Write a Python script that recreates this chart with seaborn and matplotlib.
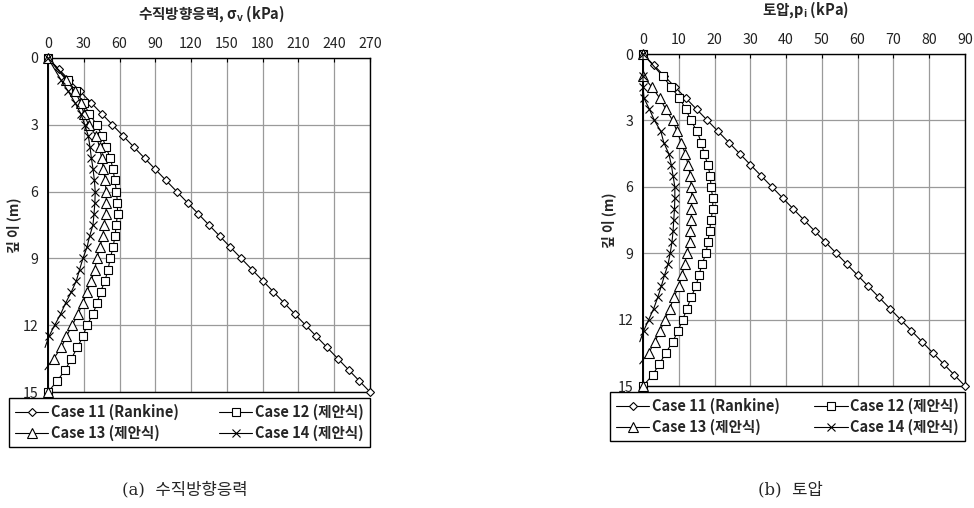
import matplotlib
matplotlib.use("Agg")
import matplotlib.pyplot as plt
import numpy as np
import pandas as pd
import seaborn as sns

# depth (m) for the Rankine series
depth_r = [0, 0.5, 1.0, 1.5, 2.0, 2.5, 3.0, 3.5, 4.0, 4.5, 5.0, 5.5, 6.0, 6.5, 7.0, 7.5,
           8.0, 8.5, 9.0, 9.5, 10.0, 10.5, 11.0, 11.5, 12.0, 12.5, 13.0, 13.5, 14.0, 14.5, 15.0]
# depth (m) for the proposed-formula series (no point at 0.5 m)
depth_p = [0, 1.0, 1.5, 2.0, 2.5, 3.0, 3.5, 4.0, 4.5, 5.0, 5.5, 6.0, 6.5, 7.0, 7.5, 8.0,
           8.5, 9.0, 9.5, 10.0, 10.5, 11.0, 11.5, 12.0, 12.5, 13.0, 13.5, 14.0, 14.5, 15.0]

# (a) vertical stress, kPa
sv_case11 = [0, 9, 18, 27, 36, 45, 54, 63, 72, 81, 90, 99, 108, 117, 126, 135,
             144, 153, 162, 171, 180, 189, 198, 207, 216, 225, 234, 243, 252, 261, 270]
sv_case12 = [0, 16.8, 23.2, 29.9, 34.4, 41.0, 45.2, 48.5, 52.3, 54.5, 56.0, 57.4, 58.2, 58.3, 57.2,
             56.2, 54.5, 52.2, 50.3, 47.8, 44.1, 41.1, 37.7, 32.7, 29.3, 24.6, 19.6, 14.5, 7.8, 0]
sv_case13 = [0, 15.5, 22.5, 27.5, 30.0, 34.0, 40.5, 43.2, 45.0, 46.5, 48.0, 48.6, 49.0, 48.5,
             47.0, 46.1, 43.3, 41.1, 39.1, 36.3, 32.7, 29.3, 25.1, 20.4, 15.4, 11.2, 4.7, -2.5]
sv_case14 = [0, 11.0, 17.0, 22.5, 27.5, 30.8, 33.8, 35.2, 36.4, 37.8, 38.9, 39.6, 39.3, 38.6,
             37.7, 34.9, 32.7, 29.3, 26.5, 23.8, 19.6, 14.8, 10.6, 5.6, 0.8, -2.5]

# (b) earth pressure, kPa
p_case11 = [0, 3, 6, 9, 12, 15, 18, 21, 24, 27, 30, 33, 36, 39, 42, 45,
            48, 51, 54, 57, 60, 63, 66, 69, 72, 75, 78, 81, 84, 87, 90]
p_case12 = [0, 5.5, 7.9, 10.2, 12.0, 13.4, 15.1, 16.3, 17.1, 18.1, 18.8, 19.0, 19.5, 19.5, 19.0,
            18.6, 18.1, 17.6, 16.5, 15.6, 14.8, 13.4, 12.3, 11.1, 9.8, 8.3, 6.4, 4.6, 2.7, 0]
p_case13 = [0, 0, 2.5, 4.7, 6.4, 8.3, 9.5, 10.7, 11.8, 12.6, 13.2, 13.5, 13.7, 13.5,
            13.5, 13.2, 13.0, 12.3, 11.6, 10.9, 10.0, 8.6, 7.5, 6.1, 4.8, 3.3, 1.6, -0.9]
p_case14 = [0, 0, 0, 0.3, 1.8, 3.2, 5.0, 5.8, 7.2, 7.9, 8.4, 8.9, 8.9, 8.8,
            8.6, 8.4, 8.1, 7.6, 7.0, 6.0, 5.1, 4.1, 3.0, 1.6, 0.2, -0.9]

# lone Case 13 marker at the toe
toe_depth = [15.0]
toe_value = [0]

case_labels = ["Case 11 (Rankine)", "Case 12 (제안식)", "Case 13 (제안식)", "Case 14 (제안식)"]

sns.set_style("white")
plt.rcParams["font.family"] = ["Noto Sans CJK KR", "DejaVu Sans"]
plt.rcParams["axes.unicode_minus"] = False

fig = plt.figure(figsize=(9.74, 5.08), dpi=100)
ax_a = fig.add_axes([48 / 974, 116 / 508, 322 / 974, 334 / 508])
ax_b = fig.add_axes([643 / 974, 122 / 508, 322 / 974, 332 / 508])

marker_kw = [
    dict(marker="D", markersize=3.8),
    dict(marker="s", markersize=6.3),
    dict(marker="^", markersize=6.8),
    dict(marker="x", markersize=6.2),
]


def draw_panel(ax, series, xmax, xstep):
    handles = []
    for (depth, vals), kw, lab in zip(series, marker_kw, case_labels):
        df = pd.DataFrame({"v": vals, "d": depth[:len(vals)]})
        # no markers for points that fall left of the axis
        shown = [i for i, v in enumerate(vals) if v >= 0]
        sns.lineplot(data=df, x="v", y="d", ax=ax, sort=False, estimator=None,
                     color="black", lw=0.8, mfc="white", mec="black", mew=0.8,
                     markevery=shown, clip_on=False, zorder=3, **kw)
        handles.append(ax.lines[-1])
    # toe marker of Case 13
    sns.lineplot(x=toe_value, y=toe_depth, ax=ax, sort=False, estimator=None,
                 color="black", lw=0, mfc="white", mec="black", mew=0.8,
                 clip_on=False, zorder=3, **marker_kw[2])
    ax.set_xlim(0, xmax)
    ax.set_ylim(15, 0)
    ax.set_xticks(np.arange(0, xmax + 1, xstep))
    ax.set_yticks([0, 3, 6, 9, 12, 15])
    ax.xaxis.tick_top()
    ax.grid(True, color="#9a9a9a", lw=0.9)
    ax.set_axisbelow(True)
    for s in ax.spines.values():
        s.set_color("black")
        s.set_linewidth(1.0)
    ax.spines["left"].set_linewidth(1.4)
    ax.tick_params(axis="x", direction="in", length=3, labelsize=10.2, pad=5, colors="black")
    ax.tick_params(axis="y", direction="out", length=4, labelsize=10.2, pad=3, colors="black")
    for lab in ax.get_xticklabels() + ax.get_yticklabels():
        lab.set_color("#222222")
    ax.set_xlabel("")
    ax.set_ylabel("")
    return handles


h_a = draw_panel(ax_a, [(depth_r, sv_case11), (depth_p, sv_case12),
                        (depth_p, sv_case13), (depth_p, sv_case14)], 270, 30)
h_b = draw_panel(ax_b, [(depth_r, p_case11), (depth_p, p_case12),
                        (depth_p, p_case13), (depth_p, p_case14)], 90, 10)

# axis titles
fig.text(211 / 974, 1 - 14 / 508, r"수직방향응력, σ$_\mathregular{v}$ (kPa)", ha="center",
         va="center", fontsize=10.5, fontweight="bold")
fig.text(805 / 974, 1 - 10 / 508, r"토압,p$_\mathregular{i}$ (kPa)", ha="center",
         va="center", fontsize=10.5, fontweight="bold")
fig.text(14 / 974, 1 - 225 / 508, "깊 이 (m)", rotation=90, ha="center", va="center",
         fontsize=10, fontweight="bold")
fig.text(609 / 974, 1 - 220 / 508, "깊 이 (m)", rotation=90, ha="center", va="center",
         fontsize=10, fontweight="bold")

# legends (row order: 11, 12 / 13, 14)
for handles, box in [(h_a, (9 / 974, 1 - 448 / 508, 361 / 974, 50 / 508)),
                     (h_b, (610 / 974, 1 - 442 / 508, 355 / 974, 50 / 508))]:
    order = [0, 2, 1, 3]
    leg = fig.legend([handles[i] for i in order], [case_labels[i] for i in order],
                     ncol=2, loc="upper left", bbox_to_anchor=box, mode="expand",
                     frameon=True, fancybox=False, framealpha=1, edgecolor="black",
                     prop={"weight": "bold", "size": 10.5}, handlelength=2.3,
                     handletextpad=0.2, labelspacing=0.35, borderpad=0.4,
                     columnspacing=0.8, borderaxespad=0)
    leg.get_frame().set_linewidth(1.0)

# captions
fig.text(185 / 974, 1 - 490 / 508, "(a)  수직방향응력", ha="center", va="center",
         fontsize=12, family=["DejaVu Serif", "Noto Sans CJK KR"])
fig.text(790 / 974, 1 - 490 / 508, "(b)  토압", ha="center", va="center",
         fontsize=12, family=["DejaVu Serif", "Noto Sans CJK KR"])

fig.savefig("out.png", dpi=100)
